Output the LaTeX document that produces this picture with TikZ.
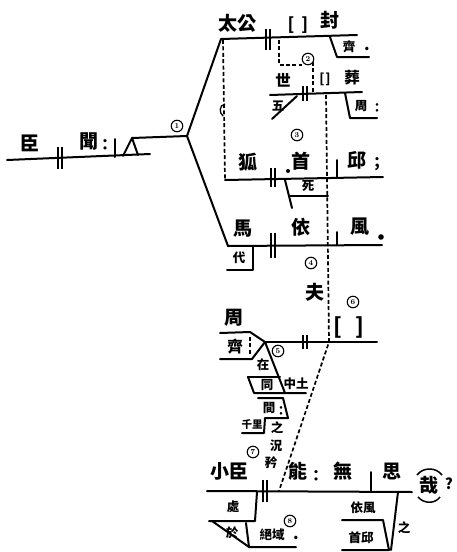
\documentclass[tikz,border=0pt]{standalone}
\usepackage{fontspec}
\newfontfamily\cjk{Noto Sans CJK TC}
\newcommand\dbar[3]{\draw[bar] (#1-1.9,#2) -- (#1-1.9,#3) (#1+1.9,#2) -- (#1+1.9,#3);}
\begin{document}
\begin{tikzpicture}[x=1pt,y=-1pt,
  ln/.style={line width=2pt, line cap=round, line join=round},
  bar/.style={line width=1.5pt},
  dsh/.style={line width=1.7pt, dash pattern=on 4pt off 2.4pt},
  big/.style={inner sep=0, font=\cjk\bfseries\fontsize{19}{19}\selectfont},
  md/.style={inner sep=0, font=\cjk\bfseries\fontsize{15.5}{15.5}\selectfont},
  sm/.style={inner sep=0, font=\cjk\bfseries\fontsize{12.5}{12.5}\selectfont},
  lat/.style={inner sep=0, font=\cjk\bfseries\fontsize{16}{16}\selectfont},
  cn/.style={circle, draw, line width=1.1pt, inner sep=0pt, minimum size=11.5pt, font=\bfseries\fontsize{7.5}{7.5}\selectfont}]
\fill[white] (0,0) rectangle (456,552);
\useasboundingbox (0,0) rectangle (456,552);

% ---- line 1: chen wen
\coordinate (l1a) at (7,160);
\coordinate (l1b) at (150,154);
\draw[ln] (l1a) -- (l1b);
\node[big] (chen) at (30,143) {臣};
\dbar{60}{147}{169}
\node[big] (wen) at (89,141) {聞};
\node[md] (wenc) at (105,145) {：};
\draw[ln] (115,139) -- (115,157);
\coordinate (apx) at (132,138);
\coordinate (j1) at (187,136);
\draw[ln] (123,156) -- (apx) -- (138,155);
\draw[ln] (apx) -- (j1);
\node[cn] (c1) at (177,126) {1};
\coordinate (t1) at (221,39);
\coordinate (b4) at (228,246);
\draw[ln] (t1) -- (j1) -- (b4);

% ---- line 2: taigong feng
\coordinate (l2b) at (357,35);
\draw[ln] (t1) -- (l2b);
\node[big] (taigong) at (237,23) {太公};
\dbar{268}{29}{50}
\node[lat, font=\cjk\bfseries\fontsize{17}{17}\selectfont] (br1) at (298,25) {[\hspace{7pt}]};
\node[big] (feng) at (330,20) {封};
\coordinate (f1) at (330,37);
\coordinate (f2) at (337,57);
\coordinate (f3) at (369,57);
\draw[ln] (f1) -- (f2) -- (f3);
\node[sm] (qi1) at (349,47) {齊};
\node[lat] (qi1p) at (367,49) {.};

% dashed link to line 2b
\node[cn] (c2) at (308,59) {2};
\coordinate (d1) at (279,40);
\coordinate (d2) at (279,65);
\coordinate (d3) at (313,93);
\draw[dsh] (d1) -- (d2) -- (c2.west |- d2);
\draw[dsh] (c2.east) ++(-1.5,3) coordinate (d4) -- (d4 |- d3);

% ---- line 2b: shi zang
\coordinate (l2ca) at (270,95);
\coordinate (l2cb) at (362,92);
\draw[ln] (l2ca) -- (l2cb);
\node[md] (shi) at (283,80) {世};
\dbar{305}{86}{101}
\node[lat, font=\cjk\bfseries\fontsize{13}{13}\selectfont] (br2) at (325,79) {[\hspace{1pt}]};
\node[md] (zang) at (352,78) {葬};
\coordinate (w1) at (297,96);
\coordinate (w2) at (272,119);
\draw[ln] (w1) -- (w2);
\node[sm] (wu) at (278,106) {五};
\coordinate (z1) at (345,93);
\coordinate (z2) at (350,118);
\coordinate (z3) at (377,118);
\draw[ln] (z1) -- (z2) -- (z3);
\node[sm] (zhou1) at (361,106) {周};
\node[sm] (zhou1c) at (377,108) {：};

% ---- big dashed line
\coordinate (bd0) at (326,95);
\coordinate (bd1) at (329,342);
\coordinate (bd2) at (279,491);
\draw[dsh] (bd0) -- (bd1) -- (bd2);

% ---- left dashed
\coordinate (ld0) at (223,40);
\coordinate (ld1) at (225,180);
\draw[dsh] (ld0) -- (ld1);
\draw[line width=1.3pt] (225,104) .. controls (219,105) and (219,113) .. (223,116);

% ---- line 3: hu si shou qiu
\coordinate (l3b) at (383,177);
\draw[ln] (ld1) -- (l3b);
\node[big] (hu) at (248,162) {狐};
\dbar{273}{168}{187}
\fill (288,171) circle (2pt);
\node[big] (shou) at (301,161) {首};
\node[cn] (c3) at (297,135) {3};
\draw[ln] (337,160) -- (337,178);
\node[big] (qiu) at (357,160) {邱};
\node[md] (qiup) at (377,164) {；};
\coordinate (s1) at (285,180);
\coordinate (s2) at (292,208);
\draw[ln] (s1) -- (s2);
\draw[ln] (290,196) -- (328,196);
\node[sm] (si) at (308,186) {死};

% ---- line 4: dai ma yi feng
\coordinate (l4b) at (382,245);
\draw[ln] (b4) -- (l4b);
\node[big] (ma) at (243,229) {馬};
\dbar{273}{233}{258}
\node[big] (yi) at (301,227) {依};
\draw[ln] (337,232) -- (337,245);
\node[big] (feng2) at (360,227) {風};
\fill (381,237) circle (2.8pt);
\draw[ln] (253,246) -- (253,270) -- (227,270);
\node[sm] (dai) at (239,258) {代};

% ---- fu, bracket
\node[cn] (c4) at (311,263) {4};
\node[big] (fu) at (315,292) {夫};
\node[cn] (c6) at (353,302) {6};
\node[lat, font=\cjk\bfseries\fontsize{22}{22}\selectfont] (br3) at (349,327) {[\hspace{13pt}]};

% ---- line 5: zhou qi zai ...
\coordinate (j5) at (265,342);
\coordinate (l5b) at (377,342);
\draw[ln] (220,333) -- (250,332) -- (j5);
\draw[ln] (220,359) -- (252,359) -- (j5);
\draw[ln] (j5) -- (l5b);
\draw[dsh, line width=1.4pt] (250,337) -- (250,355);
\node[big] (zhou2) at (234,318) {周};
\node[md] (qi2) at (235,347) {齊};
\dbar{305}{335}{349}
\node[cn] (c5) at (278,351) {5};
% zai / tong / zhongtu
\coordinate (m1) at (285,393);
\draw[ln] (j5) -- (m1);
\draw[ln] (248,377) -- (280,377);
\draw[ln] (248,377) -- (254,393) -- (306,393);
\node[sm] (zai) at (263,365) {在};
\node[sm] (tong) at (267,385) {同};
\node[sm] (zhongtu) at (296,384) {中土};
% jian / qianli zhi
\draw[ln] (258,398) -- (283,398) -- (288,418) -- (265,418) -- (264,433) -- (242,433);
\node[sm] (jian) at (269,408) {間};
\node[sm] (jianc) at (281,411) {：};
\node[sm, font=\cjk\bfseries\fontsize{10.5}{10.5}\selectfont] (qianli) at (252,425) {千里};
\node[sm] (zhi1) at (277,428) {之};

% ---- line 6: xiaochen ...
\coordinate (l6a) at (207,491);
\coordinate (l6b) at (412,492);
\draw[ln] (l6a) -- (l6b);
\node[big] (xiaochen) at (229,471) {小臣};
\node[cn] (c7) at (253,452) {7};
\node[sm] (kuang) at (276,446) {況};
\node[sm] (jin) at (271,463) {矜};
\dbar{265}{480}{502}
\node[big] (neng) at (298,471) {能};
\node[md] (nengc) at (316,476) {：};
\node[big] (wu2) at (343,471) {無};
\draw[ln] (371,472) -- (371,492);
\node[big] (si2) at (392,471) {思};
\node[big] (zai2) at (429,485) {哉};
\draw[line width=1.5pt] (417,475) .. controls (423,467) and (436,467) .. (442,475);
\draw[line width=1.5pt] (418,497) .. controls (424,504) and (435,504) .. (440,497);
\node[lat, font=\cjk\bfseries\fontsize{15}{15}\selectfont] (q) at (449,484) {?};
% chu yu jueyu
\draw[ln] (257,492) -- (255,521) -- (209,521);
\node[sm] (chu) at (233,507) {處};
\draw[ln] (212,521) -- (249,547) -- (296,547);
\draw[ln] (246,523) -- (249,547);
\node[sm] (yu) at (232,533) {於};
\node[sm] (jueyu) at (272,535) {絕域};
\node[cn] (c8) at (290,521) {8};
\node[lat] (jyp) at (296,538) {.};
% yifeng shouqiu zhi
\draw[ln] (398,492) -- (391,550);
\draw[ln] (342,520) -- (383,520) -- (389,550) -- (342,550);
\node[sm] (yifeng) at (363,508) {依風};
\node[sm] (shouqiu) at (361,538) {首邱};
\node[sm] (zhi2) at (404,528) {之};
\end{tikzpicture}
\end{document}
